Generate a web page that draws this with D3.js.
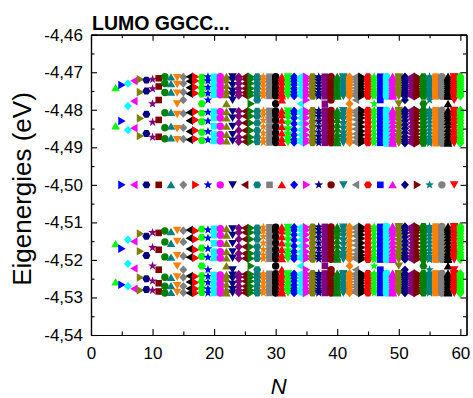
<!DOCTYPE html>
<html><head><meta charset="utf-8">
<script src="https://cdn.jsdelivr.net/npm/d3@7"></script>
<style>html,body{margin:0;padding:0;background:#fff;} svg{display:block;font-family:"Liberation Sans",Arial,sans-serif;}</style>
</head><body>
<svg id="chart" width="473" height="398"></svg>
<script>
// ---- data ----
const titleText = "LUMO GGCC...";
const centerLevel = -4.50;   // eV
// chain lengths N (x categories)
const chainLengths = [4,5,6,7,8,9,10,11,12,13,14,15,16,17,18,19,20,21,22,23,24,25,26,27,28,29,30,31,32,33,34,35,36,37,38,39,40,41,42,43,44,45,46,47,48,49,50,51,52,53,54,55,56,57,58,59,60];
// level splittings in units of 1e-4 eV: each value v is a symmetric pair of
// eigenenergies at centerLevel + v and centerLevel - v (one list per N above)
const levelSplit = [
 [259,157],
 [266,170],
 [270,210,146],
 [277,223,151],
 [281,247,177,130],
 [279,250,188,137],
 [281,256,216,167,127],
 [284,262,226,173,128],
 [288,270,246,192,152,123],
 [287,269,247,193,156,125],
 [286,268,245,216,188,150,121],
 [287,270,247,226,190,152,122],
 [288,276,259,243,193,171,142,120],
 [288,277,260,244,195,173,145,122],
 [287,275,258,242,216,191,168,140,118],
 [288,277,260,244,226,193,170,142,120],
 [288,279,265,250,240,195,178,156,134,117],
 [288,279,265,250,240,195,178,156,134,117],
 [288,279,265,250,240,216,195,178,156,134,117],
 [288,279,265,250,240,226,195,178,156,134,117],
 [288,281,270,257,246,238,196,183,165,145,127,115],
 [288,281,270,257,246,238,196,183,165,145,127,115],
 [288,281,270,257,246,238,216,196,183,165,145,127,115],
 [288,281,270,257,246,238,226,196,183,165,145,127,115],
 [288,282,273,262,252,243,237,197,187,172,155,138,123,113],
 [288,282,273,262,252,243,237,197,187,172,155,138,123,113],
 [288,282,273,262,252,243,237,216,197,187,172,155,138,123,113],
 [288,282,273,262,252,243,237,226,197,187,172,155,138,123,113],
 [288,283,276,267,257,248,241,237,197,190,178,163,147,133,121,113],
 [288,283,276,267,257,248,241,237,197,190,178,163,147,133,121,113],
 [288,283,276,267,257,248,241,237,216,197,190,178,163,147,133,121,113],
 [288,283,276,267,257,248,241,237,226,197,190,178,163,147,133,121,113],
 [288,284,278,270,262,254,246,240,236,198,191,182,169,155,141,129,119,112],
 [288,284,278,270,262,254,246,240,236,198,191,182,169,155,141,129,119,112],
 [288,284,278,270,262,254,246,240,236,216,198,191,182,169,155,141,129,119,112],
 [288,284,278,270,262,254,246,240,236,226,198,191,182,169,155,141,129,119,112],
 [288,285,280,273,266,258,251,244,239,236,198,193,185,174,161,149,136,126,117,112],
 [288,285,280,273,266,258,251,244,239,236,198,193,185,174,161,149,136,126,117,112],
 [288,285,280,273,266,258,251,244,239,236,216,198,193,185,174,161,149,136,126,117,112],
 [288,285,280,273,266,258,251,244,239,236,226,198,193,185,174,161,149,136,126,117,112],
 [288,285,281,276,269,262,255,248,243,239,236,199,194,187,178,167,155,143,133,123,116,112],
 [288,285,281,276,269,262,255,248,243,239,236,199,194,187,178,167,155,143,133,123,116,112],
 [288,285,281,276,269,262,255,248,243,239,236,216,199,194,187,178,167,155,143,133,123,116,112],
 [288,285,281,276,269,262,255,248,243,239,236,226,199,194,187,178,167,155,143,133,123,116,112],
 [288,286,282,277,272,265,259,252,247,242,238,236,199,195,189,181,171,160,150,139,129,121,115,111],
 [288,286,282,277,272,265,259,252,247,242,238,236,199,195,189,181,171,160,150,139,129,121,115,111],
 [288,286,282,277,272,265,259,252,247,242,238,236,216,199,195,189,181,171,160,150,139,129,121,115,111],
 [288,286,282,277,272,265,259,252,247,242,238,236,226,199,195,189,181,171,160,150,139,129,121,115,111],
 [288,286,283,279,274,268,262,256,250,245,241,238,236,199,196,190,183,175,165,155,145,136,127,120,115,111],
 [288,286,283,279,274,268,262,256,250,245,241,238,236,199,196,190,183,175,165,155,145,136,127,120,115,111],
 [288,286,283,279,274,268,262,256,250,245,241,238,236,216,199,196,190,183,175,165,155,145,136,127,120,115,111],
 [288,286,283,279,274,268,262,256,250,245,241,238,236,226,199,196,190,183,175,165,155,145,136,127,120,115,111],
 [288,287,284,280,276,270,265,259,254,248,244,240,237,236,199,196,191,185,178,169,160,150,141,133,125,119,114,111],
 [288,287,284,280,276,270,265,259,254,248,244,240,237,236,199,196,191,185,178,169,160,150,141,133,125,119,114,111],
 [288,287,284,280,276,270,265,259,254,248,244,240,237,236,216,199,196,191,185,178,169,160,150,141,133,125,119,114,111],
 [288,287,284,280,276,270,265,259,254,248,244,240,237,236,226,199,196,191,185,178,169,160,150,141,133,125,119,114,111],
 [289,287,284,281,277,272,267,262,257,252,247,243,240,237,236,199,197,192,187,180,172,164,155,146,138,130,123,118,113,111]
];
// odd N have one extra level exactly at centerLevel
const zeroModeN = [5,7,9,11,13,15,17,19,21,23,25,27,29,31,33,35,37,39,41,43,45,47,49,51,53,55,57,59];
const xTicks = [0,10,20,30,40,50,60];
const xMinorTicks = [5,15,25,35,45,55];
const yTicks = [-4.54,-4.53,-4.52,-4.51,-4.50,-4.49,-4.48,-4.47,-4.46];
const yMinorTicks = [-4.535,-4.525,-4.515,-4.505,-4.495,-4.485,-4.475,-4.465];

// ---- styles ----
const palette = ["#000000","#FF0000","#00FF00","#0000FF","#00FFFF","#FF00FF","#808000","#000080","#800080","#800000","#008000","#008080","#FF8000","#808080"];
const shapeCycle = ["square","circle","up","down","diamond","left","right","hexagon","star"];
const shapeOverride = {5:"right"};

const svg = d3.select("#chart");
const L = 91, R = 466.5, T = 34.7, B = 335;
const x = d3.scaleLinear().domain([0,61]).range([L,R]);
const y = d3.scaleLinear().domain([-4.54,-4.46]).range([B,T]);
const fmtY = d3.formatLocale({decimal:",",thousands:".",grouping:[3],currency:["",""],minus:"-"}).format(".2f");

function poly(pts){ return {draw(ctx){ ctx.moveTo(pts[0][0],pts[0][1]); for(let i=1;i<pts.length;i++) ctx.lineTo(pts[i][0],pts[i][1]); ctx.closePath(); }}; }
const triUp = [[0,-3.9],[4.3,3.5],[-4.3,3.5]];
const shapes = {
  square: poly([[-3.3,-3.3],[3.3,-3.3],[3.3,3.3],[-3.3,3.3]]),
  circle: {draw(ctx){ ctx.moveTo(3.7,0); ctx.arc(0,0,3.7,0,2*Math.PI); }},
  up: poly(triUp),
  down: poly(triUp.map(([a,b])=>[-a,-b])),
  right: poly(triUp.map(([a,b])=>[-b,a])),
  left: poly(triUp.map(([a,b])=>[b,-a])),
  diamond: poly([[0,-4.3],[4,0],[0,4.3],[-4,0]]),
  hexagon: poly([0,1,2,3,4,5].map(k=>[4*Math.cos(k*Math.PI/3),4*Math.sin(k*Math.PI/3)])),
  star: poly([0,1,2,3,4,5,6,7,8,9].map(k=>{const r=k%2?1.9:4.6, a=-Math.PI/2+k*Math.PI/5; return [r*Math.cos(a), r*Math.sin(a)];}))
};

// ---- markers ----
const gPts = svg.append("g");
chainLengths.forEach((n,i)=>{
  const levels = [];
  levelSplit[i].forEach(v=>{ levels.push(centerLevel + v*1e-4); levels.push(centerLevel - v*1e-4); });
  if (zeroModeN.includes(n)) levels.push(centerLevel);
  const shapeName = shapeOverride[n] || shapeCycle[(n-2)%9];
  const sym = d3.symbol().type(shapes[shapeName]);
  gPts.append("g").selectAll("path").data(levels).join("path")
    .attr("transform", e=>`translate(${x(n)},${y(e)})`)
    .attr("d", sym)
    .attr("fill", palette[(n-2)%14]);
});

// ---- axes ----
function styleAxis(g){
  g.selectAll(".domain").attr("stroke","#000").attr("stroke-width",1.2);
  g.selectAll(".tick line").attr("stroke","#000").attr("stroke-width",1.1);
  g.selectAll("text").attr("font-family","'Liberation Sans', Arial, sans-serif").attr("font-size",17).attr("fill","#000");
}
svg.append("g").attr("transform",`translate(0,${B})`)
  .call(d3.axisBottom(x).tickValues(xTicks).tickSize(-6).tickSizeOuter(0).tickPadding(12).tickFormat(d3.format("d"))).call(styleAxis);
svg.append("g").attr("transform",`translate(0,${B})`)
  .call(d3.axisBottom(x).tickValues(xMinorTicks).tickSize(-3.5).tickSizeOuter(0).tickFormat("")).call(styleAxis);
svg.append("g").attr("transform",`translate(0,${T})`)
  .call(d3.axisTop(x).tickValues(xTicks).tickSize(-6).tickSizeOuter(0).tickFormat("")).call(styleAxis);
svg.append("g").attr("transform",`translate(0,${T})`)
  .call(d3.axisTop(x).tickValues(xMinorTicks).tickSize(-3.5).tickSizeOuter(0).tickFormat("")).call(styleAxis);
svg.append("g").attr("transform",`translate(${L},0)`)
  .call(d3.axisLeft(y).tickValues(yTicks).tickSize(-6).tickSizeOuter(0).tickPadding(8).tickFormat(fmtY)).call(styleAxis);
svg.append("g").attr("transform",`translate(${L},0)`)
  .call(d3.axisLeft(y).tickValues(yMinorTicks).tickSize(-3.5).tickSizeOuter(0).tickFormat("")).call(styleAxis);
svg.append("g").attr("transform",`translate(${R},0)`)
  .call(d3.axisRight(y).tickValues(yTicks).tickSize(-6).tickSizeOuter(0).tickFormat("")).call(styleAxis);
svg.append("g").attr("transform",`translate(${R},0)`)
  .call(d3.axisRight(y).tickValues(yMinorTicks).tickSize(-3.5).tickSizeOuter(0).tickFormat("")).call(styleAxis);

// ---- labels ----
svg.append("text").attr("x",92).attr("y",30).attr("font-size",19.5).attr("font-weight","bold").text(titleText);
svg.append("text").attr("transform",`translate(31,189) rotate(-90)`).attr("text-anchor","middle")
  .attr("font-size",26).text("Eigenergies (eV)");
svg.append("text").attr("x",(L+R)/2).attr("y",394).attr("text-anchor","middle")
  .attr("font-size",22).attr("font-style","italic").text("N");
</script>
</body></html>
